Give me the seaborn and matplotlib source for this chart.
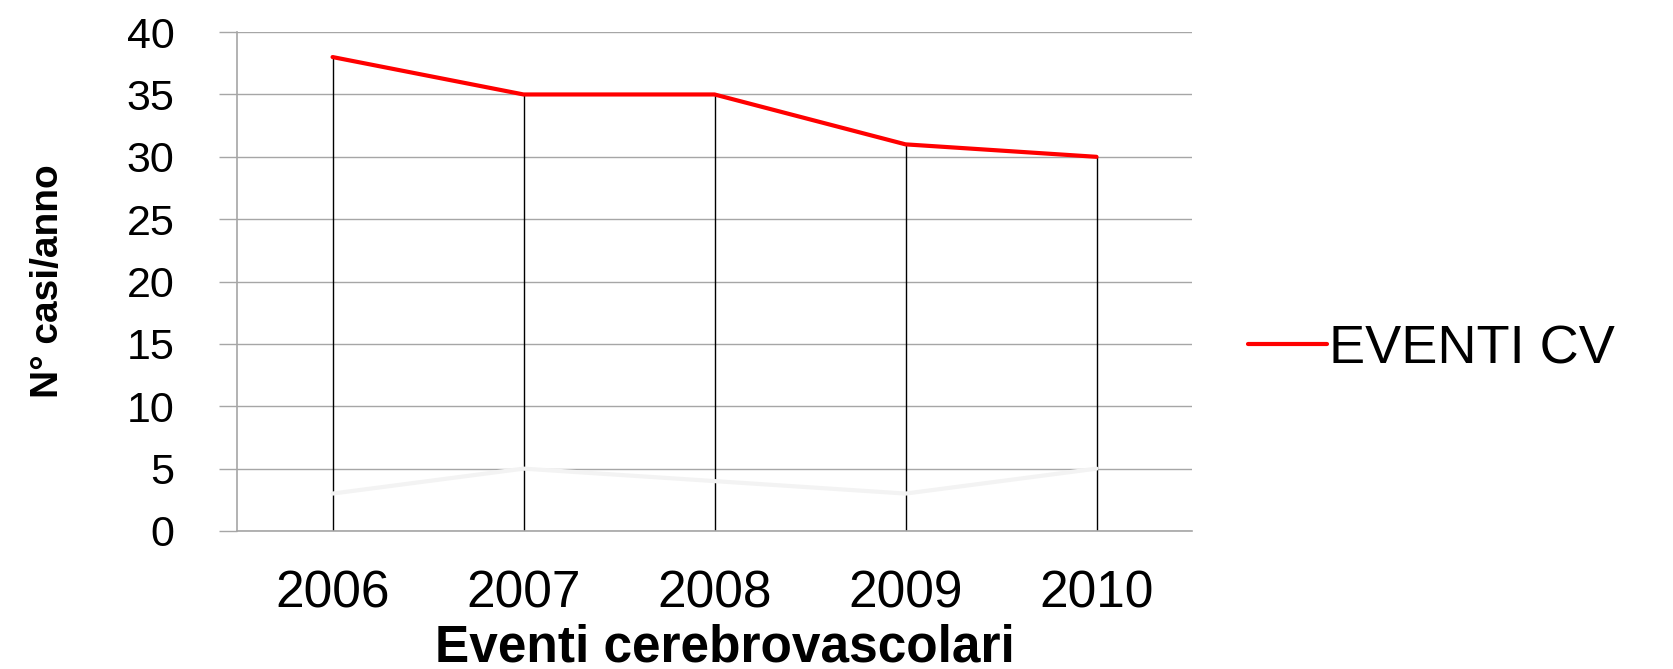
import matplotlib
matplotlib.use("Agg")
import matplotlib.pyplot as plt
from matplotlib import font_manager
import seaborn as sns
import numpy as np
import pandas as pd

sns.set_theme(style="white")
plt.rcParams['font.family'] = ['Liberation Sans', 'DejaVu Sans']

# data
anni = ['2006', '2007', '2008', '2009', '2010']
eventi_cv = [38, 35, 35, 31, 30]
serie_chiara = [3, 5, 4, 3, 5]   # almost invisible second series

df = pd.DataFrame({'pos': np.arange(len(anni)), 'anno': anni,
                   'cv': eventi_cv, 'chiara': serie_chiara})

fig = plt.figure(figsize=(16.73, 6.69), dpi=100)
ax = fig.add_axes([0.1417, 0.2063, 0.5708, 0.7457])

grey = '#a6a6a6'
ax.set_ylim(0, 40)
ax.set_xlim(-0.5, 4.5)
ax.set_yticks(range(0, 41, 5))
ax.yaxis.grid(True, color=grey, linewidth=1)
ax.set_axisbelow(True)

# drop lines from the red line to the axis
ax.vlines(df['pos'], 0, df['cv'], color='black', linewidth=1, zorder=2)

sns.lineplot(data=df, x='pos', y='chiara', color='#f3f3f3', linewidth=3,
             ax=ax, legend=False, zorder=3)
sns.lineplot(data=df, x='pos', y='cv', color='#ff0000', linewidth=3,
             ax=ax, label='EVENTI CV', zorder=4)

for s in ['top', 'right']:
    ax.spines[s].set_visible(False)
for s in ['left', 'bottom']:
    ax.spines[s].set_color(grey)
    ax.spines[s].set_linewidth(1.2)

ax.set_xticks(df['pos'])
ax.set_xticklabels(anni)
ax.tick_params(axis='x', bottom=False, length=0, pad=28, labelsize=37,
               labelcolor='black')
ax.tick_params(axis='y', left=True, length=13, width=1, color=grey,
               direction='out', pad=32, labelsize=31, labelcolor='black')

# y label in a narrow face if there is one
nomi = {f.name for f in font_manager.fontManager.ttflist}
if 'Liberation Sans Narrow' in nomi:
    fam_y, size_y = ['Liberation Sans Narrow', 'DejaVu Sans'], 35
else:
    fam_y, size_y = ['Liberation Sans', 'DejaVu Sans'], 28

ax.set_xlabel('Eventi cerebrovascolari', fontsize=37, fontweight='bold',
              color='black')
ax.set_ylabel('N° casi/anno', fontsize=size_y, fontweight='bold',
              color='black', family=fam_y)
ax.xaxis.set_label_coords(0.511, -0.235)
ax.xaxis.label.set_va('center')
ax.yaxis.set_label_coords(-0.198, 0.5)
ax.yaxis.label.set_va('center')

leg = ax.legend(loc='center left', bbox_to_anchor=(0.746, 0.478),
                bbox_transform=fig.transFigure, frameon=False, fontsize=39,
                handlelength=1.45, handletextpad=0.05, borderpad=0,
                borderaxespad=0)
for t in leg.get_texts():
    t.set_color('black')

fig.savefig('out.png', dpi=100)
